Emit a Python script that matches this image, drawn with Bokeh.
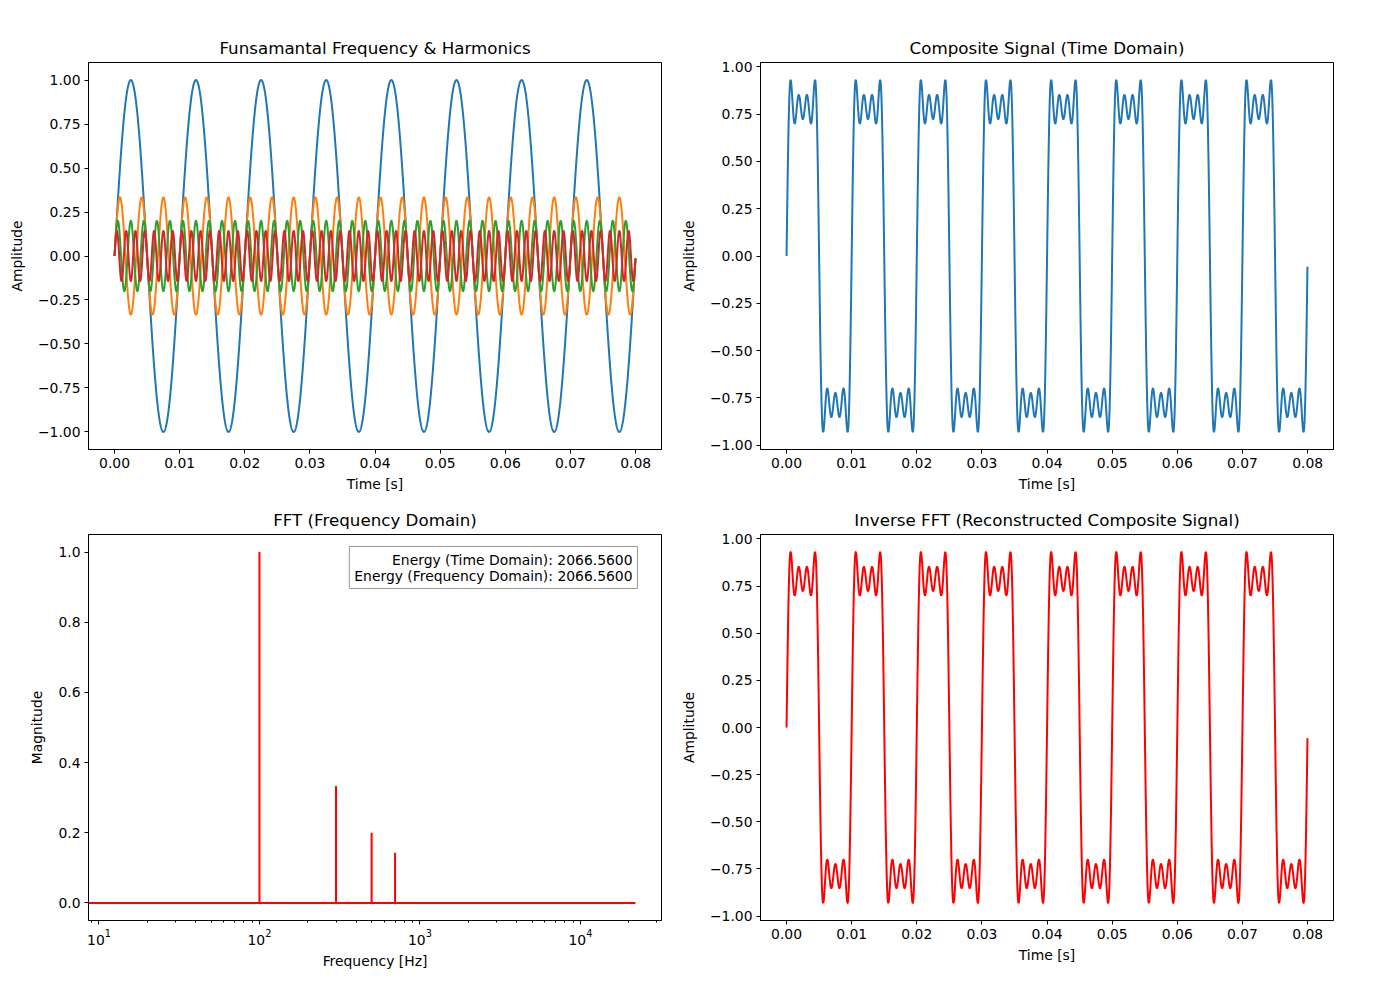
import numpy as np
from bokeh.plotting import figure
from bokeh.layouts import column, row
from bokeh.models import Range1d, FixedTicker, Label
from bokeh.embed import file_html
from bokeh.resources import INLINE

# ---------------- data ----------------
SAMPLE_RATE = 44100          # Hz
DURATION = 0.08              # s
FREQUENCIES = [100, 300, 500, 700]          # fundamental + odd harmonics (Hz)
AMPLITUDES = [1.0, 1 / 3, 1 / 5, 1 / 7]     # amplitudes of each component
COMPONENT_COLORS = ["#1f77b4", "#ff7f0e", "#2ca02c", "#d62728"]
TIME_TICKS = [0.00, 0.01, 0.02, 0.03, 0.04, 0.05, 0.06, 0.07, 0.08]
AMP_TICKS = [-1.00, -0.75, -0.50, -0.25, 0.00, 0.25, 0.50, 0.75, 1.00]
MAG_TICKS = [0.0, 0.2, 0.4, 0.6, 0.8, 1.0]
TITLES = ["Funsamantal Frequency & Harmonics", "Composite Signal (Time Domain)",
          "FFT (Frequency Domain)", "Inverse FFT (Reconstructed Composite Signal)"]

N = int(SAMPLE_RATE * DURATION)
t = np.arange(N) / SAMPLE_RATE
components = [a * np.sin(2 * np.pi * f * t) for f, a in zip(FREQUENCIES, AMPLITUDES)]
composite = np.sum(components, axis=0)

spectrum = np.fft.fft(composite)
freqs = np.fft.fftfreq(N, 1 / SAMPLE_RATE)
half = N // 2
pos_freqs = freqs[:half].copy()
magnitude = np.abs(spectrum[:half])
magnitude = magnitude / magnitude.max()
reconstructed = np.fft.ifft(spectrum).real

energy_time = np.sum(composite ** 2)
energy_freq = np.sum(np.abs(spectrum) ** 2) / N

FONT = "DejaVu Sans"
TICK_SIZE = "13.9px"
TITLE_SIZE = "16.7px"
LW = 2


def pad_range(lo, hi, frac=0.05):
    span = hi - lo
    return lo - frac * span, hi + frac * span


def fmt_minus(s):
    return s.replace("-", "\u2212")


def make_fig(width, height, mbl, mbr, mbt, mbb, title, x_range, y_range, x_axis_type="linear"):
    p = figure(width=width, height=height, x_range=x_range, y_range=y_range,
               x_axis_type=x_axis_type, output_backend="svg", toolbar_location=None,
               title=title, min_border_left=mbl, min_border_right=mbr,
               min_border_top=mbt, min_border_bottom=mbb)
    p.title.text_font = FONT
    p.title.text_font_size = TITLE_SIZE
    p.title.text_font_style = "normal"
    p.title.text_color = "black"
    p.title.align = "center"
    p.title.standoff = 10
    p.outline_line_color = "black"
    p.outline_line_width = 1
    p.outline_line_alpha = 1
    p.xgrid.visible = False
    p.ygrid.visible = False
    p.background_fill_color = "white"
    p.border_fill_color = "white"
    for ax in (p.xaxis[0], p.yaxis[0]):
        ax.major_label_text_font = FONT
        ax.major_label_text_font_size = TICK_SIZE
        ax.major_label_text_color = "black"
        ax.axis_label_text_font = FONT
        ax.axis_label_text_font_size = TICK_SIZE
        ax.axis_label_text_font_style = "normal"
        ax.axis_label_text_color = "black"
        ax.axis_line_color = "black"
        ax.major_tick_line_color = "black"
        ax.major_tick_out = 4
        ax.major_tick_in = 0
        ax.minor_tick_out = 0
        ax.minor_tick_in = 0
        ax.major_label_standoff = 4
        ax.axis_label_standoff = 10
    return p


def time_axes(p, ylabel):
    p.xaxis.ticker = FixedTicker(ticks=TIME_TICKS)
    p.xaxis.major_label_overrides = {v: f"{v:.2f}" for v in TIME_TICKS}
    p.yaxis.ticker = FixedTicker(ticks=AMP_TICKS)
    p.yaxis.major_label_overrides = {v: fmt_minus(f"{v:.2f}") for v in AMP_TICKS}
    p.xaxis.axis_label = "Time [s]"
    p.yaxis.axis_label = ylabel
    p.xaxis.axis_label_standoff = 5


t_lo, t_hi = pad_range(t.min(), t.max())

# ---- top left: components ----
all_comp = np.concatenate(components)
p1 = make_fig(666, 495, 88, 5, 62, 46, TITLES[0],
              Range1d(t_lo, t_hi), Range1d(*pad_range(all_comp.min(), all_comp.max())))
time_axes(p1, "Amplitude")
for comp, col in zip(components, COMPONENT_COLORS):
    p1.line(t, comp, line_color=col, line_width=LW)

# ---- top right: composite ----
p2 = make_fig(734, 495, 94, 67, 62, 46, TITLES[1],
              Range1d(t_lo, t_hi), Range1d(*pad_range(composite.min(), composite.max())))
time_axes(p2, "Amplitude")
p2.line(t, composite, line_color="#1f77b4", line_width=LW)

# ---- bottom left: FFT (stem plot) ----
lf_lo, lf_hi = pad_range(np.log10(pos_freqs[1]), np.log10(pos_freqs[-1]))
p3 = make_fig(666, 505, 88, 5, 39, 80, TITLES[2],
              Range1d(10 ** lf_lo, 10 ** lf_hi),
              Range1d(*pad_range(min(0.0, magnitude.min()), magnitude.max())), x_axis_type="log")
stem_x = pos_freqs[1:]
stem_y = magnitude[1:]
p3.segment(x0=stem_x, y0=np.zeros_like(stem_y), x1=stem_x, y1=stem_y,
           line_color="red", line_width=LW)
# baseline spanning the data's frequency extent (non-positive values clipped as in matplotlib)
base_x = np.array([max(pos_freqs.min(), 1e-300), pos_freqs.max()])
p3.line(base_x, np.zeros(2), line_color="red", line_width=LW)
p3.yaxis.ticker = FixedTicker(ticks=MAG_TICKS)
p3.yaxis.major_label_overrides = {v: f"{v:.1f}" for v in MAG_TICKS}
p3.xaxis.minor_tick_out = 2
p3.xaxis.minor_tick_line_color = "black"
p3.xaxis.axis_label = "Frequency [Hz]"
p3.yaxis.axis_label = "Magnitude"
p3.xaxis.axis_label_standoff = 5
energy_text = (f"Energy (Time Domain): {energy_time:.4f}\n"
               f"Energy (Frequency Domain): {energy_freq:.4f}")
p3.add_layout(Label(x=573 - 24, y=386 - 12, x_units="screen", y_units="screen",
                    text=energy_text, text_align="right", text_baseline="top",
                    text_font=FONT, text_font_size=TICK_SIZE, text_color="black",
                    text_line_height=1.0,
                    border_line_color="#999999", border_line_width=1,
                    background_fill_color="white", background_fill_alpha=0.8,
                    padding=5))

# ---- bottom right: inverse FFT ----
p4 = make_fig(734, 505, 94, 67, 39, 80, TITLES[3],
              Range1d(t_lo, t_hi), Range1d(*pad_range(reconstructed.min(), reconstructed.max())))
time_axes(p4, "Amplitude")
p4.line(t, reconstructed, line_color="red", line_width=LW)

layout = column(row(p1, p2), row(p3, p4))
open("out.html", "w").write(file_html(layout, INLINE))
